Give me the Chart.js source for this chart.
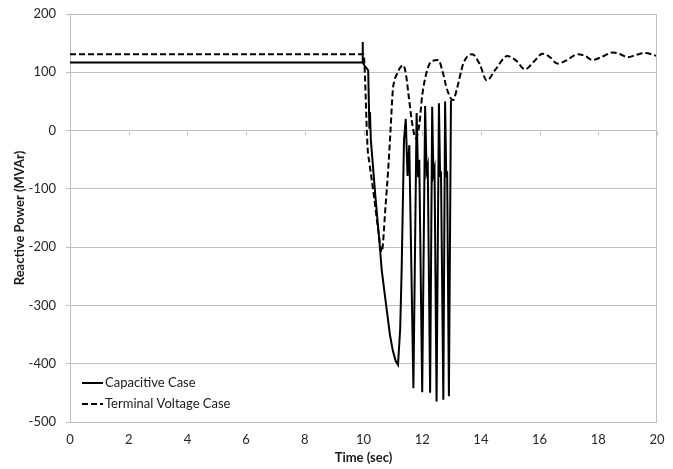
<!DOCTYPE html>
<html>
<head>
<meta charset="utf-8">
<script src="https://cdn.jsdelivr.net/npm/chart.js@4.4.1/dist/chart.umd.min.js"></script>
<style>
  html, body { margin: 0; padding: 0; background: #ffffff; }
  #wrap { width: 673px; height: 469px; }
</style>
</head>
<body>
<div id="wrap"><canvas id="c" width="673" height="469"></canvas></div>
<script>
// ---- data ----
const seriesNames = ['Capacitive Case', 'Terminal Voltage Case'];

const capTime = [0, 9.96, 9.97, 9.98, 10.05, 10.12, 10.16, 10.2, 10.22, 10.25, 10.4, 10.55, 10.62, 10.77, 10.9, 11.0, 11.1, 11.175,
  11.25, 11.3, 11.38, 11.44, 11.5, 11.56, 11.70, 11.81, 11.86, 11.9, 12.0, 12.1, 12.15, 12.19, 12.27, 12.34, 12.38, 12.42,
  12.49, 12.57, 12.61, 12.64, 12.72, 12.78, 12.82, 12.85, 12.91, 12.98];
const capValue = [117, 117, 152, 117, 110, 106, 103, 5, 32, -16, -110, -195, -239, -299, -350, -378, -396, -402,
  -340, -239, -16, 20, -78, -25, -442, 30, -80, -50, -449, 42, -70, -60, -450, 41, -75, -65,
  -465, 47, -78, -70, -462, 50, -80, -70, -456, 52];

const termTime = [0, 10.0, 10.14, 10.2, 10.35, 10.5, 10.62, 10.75, 10.85, 10.92, 11.0, 11.05, 11.15, 11.25, 11.36,
  11.45, 11.55, 11.65, 11.78, 11.9, 12.0, 12.15, 12.3, 12.55, 12.7, 12.85, 13.05, 13.2, 13.4, 13.7, 13.95, 14.2,
  14.5, 14.9, 15.2, 15.5, 15.8, 16.1, 16.35, 16.6, 16.9, 17.3, 17.55, 17.8, 18.1, 18.5, 18.75, 19.0, 19.3, 19.6, 20.0];
const termValue = [131, 131, -30, -55, -110, -170, -208, -130, -60, 0, 70, 85, 98, 108, 112,
  95, 55, 15, -13, 10, 60, 100, 118, 121, 100, 70, 52, 75, 115, 131, 115, 86,
  105, 128, 120, 105, 118, 132, 126, 115, 120, 131, 128, 121, 126, 134, 131, 126, 130, 133, 128];

const xTicks = [0, 2, 4, 6, 8, 10, 12, 14, 16, 18, 20];
const yTicks = [-500, -400, -300, -200, -100, 0, 100, 200];

// ---- build chart ----
const toPts = (xs, ys) => xs.map((x, i) => ({ x: x, y: ys[i] }));
const gridGray = '#c0c0c0';
const tickFont = { family: 'Lato, "Liberation Sans", sans-serif', size: 13 };
const titleFont = { family: 'Lato, "Liberation Sans", sans-serif', size: 13, weight: 'bold' };

const frame = {
  id: 'frame',
  afterDraw(chart) {
    const { ctx, chartArea: a, scales: { x, y } } = chart;
    ctx.save();
    ctx.strokeStyle = gridGray;
    ctx.lineWidth = 1;
    ctx.beginPath();
    ctx.moveTo(Math.round(a.right) - 0.5, a.top);
    ctx.lineTo(Math.round(a.right) - 0.5, a.bottom);
    ctx.stroke();
    const y0 = Math.round(y.getPixelForValue(0)) + 0.5;
    xTicks.forEach(t => {
      const px = Math.round(x.getPixelForValue(t)) + 0.5;
      ctx.beginPath();
      ctx.moveTo(px, y0);
      ctx.lineTo(px, y0 + 4);
      ctx.stroke();
    });
    ctx.restore();
  }
};

const insideLegend = {
  id: 'insideLegend',
  afterDraw(chart) {
    const { ctx } = chart;
    const rows = [383, 404];
    ctx.save();
    chart.data.datasets.forEach((ds, i) => {
      const yy = rows[i];
      ctx.strokeStyle = ds.borderColor;
      ctx.lineWidth = 2;
      ctx.setLineDash(ds.borderDash || []);
      ctx.beginPath();
      ctx.moveTo(82, yy);
      ctx.lineTo(103, yy);
      ctx.stroke();
      ctx.setLineDash([]);
      ctx.fillStyle = '#1a1a1a';
      ctx.font = '13px Lato, "Liberation Sans", sans-serif';
      ctx.textBaseline = 'middle';
      ctx.textAlign = 'left';
      ctx.fillText(ds.label, 105, yy);
    });
    ctx.restore();
  }
};

new Chart(document.getElementById('c'), {
  type: 'line',
  data: {
    datasets: [
      {
        label: seriesNames[0],
        data: toPts(capTime, capValue),
        borderColor: '#000000',
        borderWidth: 2,
        pointRadius: 0,
        tension: 0,
        fill: false
      },
      {
        label: seriesNames[1],
        data: toPts(termTime, termValue),
        borderColor: '#000000',
        borderWidth: 2,
        borderDash: [6, 3],
        pointRadius: 0,
        cubicInterpolationMode: 'monotone',
        fill: false
      }
    ]
  },
  options: {
    responsive: false,
    animation: false,
    devicePixelRatio: 1,
    layout: { padding: { top: 14, right: 16, left: 0, bottom: 0 } },
    plugins: { legend: { display: false }, tooltip: { enabled: false } },
    scales: {
      x: {
        type: 'linear',
        min: 0, max: 20,
        afterBuildTicks: s => { s.ticks = xTicks.map(v => ({ value: v })); },
        afterFit: s => { s.height = 47; s.paddingLeft = 0; s.paddingRight = 0; },
        grid: { display: false, drawTicks: false },
        border: { display: false },
        ticks: { font: tickFont, color: '#262626', padding: 10, maxRotation: 0 },
        title: { display: true, text: 'Time (sec)', font: titleFont, color: '#1a1a1a', padding: { top: 0, bottom: 3 } }
      },
      y: {
        type: 'linear',
        min: -500, max: 200,
        afterBuildTicks: s => { s.ticks = yTicks.map(v => ({ value: v })); },
        afterFit: s => { s.width = 70; s.paddingTop = 0; s.paddingBottom = 0; },
        grid: { color: gridGray, lineWidth: 1, tickLength: 4 },
        border: { display: true, color: gridGray },
        ticks: { font: tickFont, color: '#262626', padding: 10 },
        title: { display: true, text: 'Reactive Power (MVAr)', font: titleFont, color: '#1a1a1a', padding: { top: 12, bottom: 0 } }
      }
    }
  },
  plugins: [frame, insideLegend]
});
</script>
</body>
</html>
